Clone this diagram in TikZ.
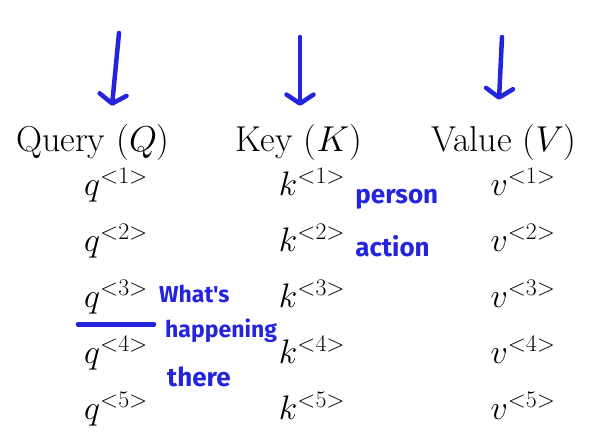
\RequirePackage{fix-cm}
\documentclass[tikz,border=0pt]{standalone}
\usepackage{fontspec}
\newfontfamily\handfont{Fira Sans}
\usetikzlibrary{positioning,arrows.meta}
\definecolor{penblue}{RGB}{36,36,222}

\begin{document}
\begin{tikzpicture}[x=1pt, y=1pt, node distance = 23.2pt]
    \tikzstyle{header} = [inner sep=0pt, text height=26pt, text depth=9pt, font=\fontsize{36}{42}\selectfont];
    \tikzstyle{entry} = [inner sep=0pt, text height=24pt, text depth=8.5pt, font=\fontsize{34}{40}\selectfont];
    \tikzstyle{note} = [inner sep=0pt, text=penblue, font=\handfont\bfseries\fontsize{26}{30}\selectfont];
    \tikzstyle{scrawl} = [note, font=\handfont\bfseries\fontsize{23}{28}\selectfont];
    \tikzstyle{pen} = [draw=penblue, line width=4.5pt, line cap=round, line join=round];
    \tikzstyle{marker} = [pen, -{Straight Barb[length=9pt, width=27pt, round]}];
    \useasboundingbox (0,0) rectangle (606,440);

    \node [header, anchor=base] (query) at (93,288) {Query ($Q$)};
    \node [header, anchor=base] (key) at (298.5,288) {Key ($K$)};
    \node [header, anchor=base] (value) at (504,288) {Value ($V$)};

    \node [entry, below = 10pt of query, xshift=23pt] (q1) {$q^{<1>}$};
    \node [entry, below = of q1] (q2) {$q^{<2>}$};
    \node [entry, below = of q2] (q3) {$q^{<3>}$};
    \node [entry, below = of q3] (q4) {$q^{<4>}$};
    \node [entry, below = of q4] (q5) {$q^{<5>}$};

    \node [entry, below = 10pt of key, xshift=13.5pt] (k1) {$k^{<1>}$};
    \node [entry, below = of k1] (k2) {$k^{<2>}$};
    \node [entry, below = of k2] (k3) {$k^{<3>}$};
    \node [entry, below = of k3] (k4) {$k^{<4>}$};
    \node [entry, below = of k4] (k5) {$k^{<5>}$};

    \node [entry, below = 10pt of value, xshift=19pt] (v1) {$v^{<1>}$};
    \node [entry, below = of v1] (v2) {$v^{<2>}$};
    \node [entry, below = of v2] (v3) {$v^{<3>}$};
    \node [entry, below = of v3] (v4) {$v^{<4>}$};
    \node [entry, below = of v4] (v5) {$v^{<5>}$};

    % handwritten notes
    \node [note, right = 10pt of k1.base east, anchor=base west, yshift=-8pt] (person) {person};
    \node [note, right = 10pt of k2.base east, anchor=base west, yshift=-5pt] (action) {action};
    \node [scrawl, right = 11pt of q3.base east, anchor=base west, yshift=5pt] (whats) {What's};
    \node [scrawl, below = 35pt of whats.base west, anchor=base west, xshift=6pt] (happening) {happening};
    \node [scrawl, font=\handfont\bfseries\fontsize{26}{30}\selectfont, below = 49pt of happening.base west, anchor=base west, xshift=2pt] (there) {there};

    \coordinate (qtop) at (119,407);
    \coordinate (ktop) at (300,403);
    \coordinate (vtop) at (502,403);
    \draw [marker] (qtop) -- ([xshift=19pt, yshift=20pt]query.north);
    \draw [marker] (ktop) -- ([xshift=1.5pt, yshift=20pt]key.north);
    \draw [marker] (vtop) -- ([xshift=-5pt, yshift=26pt]value.north);
    \draw [pen] ([xshift=-6pt, yshift=-8pt]q3.south west) -- ([xshift=6pt, yshift=-8pt]q3.south east);
\end{tikzpicture}
\end{document}
